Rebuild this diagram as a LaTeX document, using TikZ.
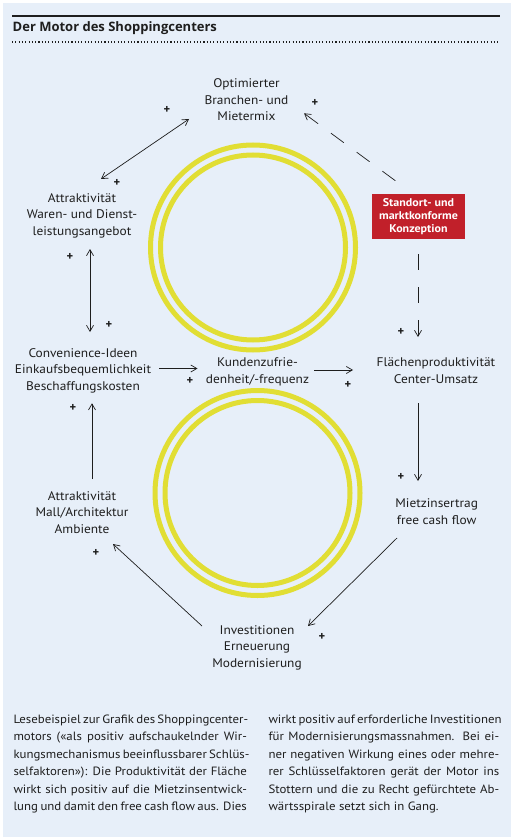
\documentclass[tikz,border=0pt]{standalone}
\usepackage{fontspec}
\setmainfont{PT Sans}
\newfontfamily\lblfont{PT Sans}[FakeStretch=1.07]
\newfontfamily\titlefont{Open Sans}
\usetikzlibrary{arrows.meta,calc}
\definecolor{bgblue}{HTML}{E7EFF9}
\definecolor{ringyellow}{HTML}{E1DE34}
\definecolor{boxred}{HTML}{C1202A}
\definecolor{ink}{HTML}{1E1E1E}
\begin{document}
\begin{tikzpicture}[x=1pt,y=-1pt,
  lbl/.style={align=center, inner sep=0pt, anchor=base, text=ink, font=\lblfont\fontsize{12.5}{16.5}\selectfont},
  plus/.style={inner sep=0pt, font=\bfseries\fontsize{12.5}{12.5}\selectfont, text=ink},
  ring/.style={draw=ringyellow, line width=5pt},
  tipb/.tip={Straight Barb[length=6pt,width=7pt]},
  conn/.style={draw=ink, line width=0.7pt, -tipb},
  both/.style={draw=ink, line width=0.7pt, tipb-tipb},
  dconn/.style={conn, dash pattern=on 16pt off 16pt},
  coltext/.style={align=left, inner sep=0pt, anchor=base west, text=ink, font=\lblfont\fontsize{12}{17.5}\selectfont},
]
\useasboundingbox (0,0) rectangle (511,837);
\fill[white] (0,0) rectangle (511,837);
\fill[bgblue] (3,3) rectangle (511,837);
% header
\draw[ink, line width=1.7pt] (12,15.7) -- (500,15.7);
\node[anchor=base west, inner sep=0pt, text=ink, font=\titlefont\bfseries\fontsize{13}{16}\selectfont] (title) at (12.5,32) {Der Motor des Shoppingcenters};
\draw[ink, line width=1.3pt, dash pattern=on 1.1pt off 2.2pt] (12,42) -- (500,42);
% rings
\draw[ring] (253,247.5) circle[radius=102.5pt];
\draw[ring] (253,247.5) circle[radius=92.5pt];
\draw[ring] (257.5,493) circle[radius=102.5pt];
\draw[ring] (257.5,493) circle[radius=92.5pt];
% labels (positioned by the baseline of their last line)
\node[lbl] (opt) at (246.5,121) {Optimierter\\Branchen- und\\Mietermix};
\node[lbl] (waren) at (82,235.5) {Attraktivität\\Waren- und Dienst-\\leistungsangebot};
\node[lbl] (conv) at (83,390) {Convenience-Ideen\\Einkaufsbequemlichkeit\\Beschaffungskosten};
\node[lbl] (kunden) at (257.5,383.3) {Kundenzufrie-\\denheit/-frequenz};
\node[lbl] (flaech) at (436,383) {Flächenproduktivität\\Center-Umsatz};
\node[lbl] (miet) at (436.7,524) {Mietzinsertrag\\free cash flow};
\node[lbl] (mall) at (82,533.3) {Attraktivität\\Mall/Architektur\\Ambiente};
\node[lbl] (invest) at (257,667.3) {Investitionen\\Erneuerung\\Modernisierung};
\node[fill=boxred, minimum width=93pt, minimum height=45pt, inner sep=0pt, align=center, text=white,
  font=\lblfont\bfseries\fontsize{11.2}{12.9}\selectfont] (box) at (418.5,216.5) {Standort- und\\marktkonforme\\Konzeption};
% connectors
\draw[both] ($(waren.base)+(19,-56.5)$) -- ($(opt.base)+(-57.5,-2)$);
\draw[dconn] ($(box.center)+(-23.2,-35.8)$) -- ($(opt.base)+(57.5,-7.7)$);
\draw[dconn, dash pattern=on 16pt off 17pt] ($(box.center)+(-0.5,37.5)$) -- ($(flaech.base)+(-18,-46)$);
\draw[both] ($(waren.base)+(8,13.5)$) -- ($(conv.base)+(7,-58)$);
\draw[conn] ($(conv.base)+(76,-21.5)$) -- ($(kunden.base)+(-60,-14.8)$);
\draw[conn] ($(kunden.base)+(56.5,-13.3)$) -- ($(flaech.base)+(-83,-13)$);
\draw[conn] ($(flaech.base)+(-18,20)$) -- ($(miet.base)+(-18.7,-43)$);
\draw[conn] ($(miet.base)+(-39.7,14)$) -- ($(invest.base)+(51,-41.3)$);
\draw[conn] ($(invest.base)+(-55,-41.3)$) -- ($(mall.base)+(31,10.7)$);
\draw[conn] ($(mall.base)+(10,-54.3)$) -- ($(conv.base)+(9,13.3)$);
% plus signs
\node[plus] (p1) at (167,110) {+};
\node[plus] (p2) at (117,183) {+};
\node[plus] (p3) at (315,103) {+};
\node[plus] (p4) at (401,332) {+};
\node[plus] (p5) at (70,257) {+};
\node[plus] (p6) at (109,325) {+};
\node[plus] (p7) at (190,381) {+};
\node[plus] (p8) at (348,385) {+};
\node[plus] (p9) at (401,477) {+};
\node[plus] (p10) at (322,637) {+};
\node[plus] (p11) at (96,553) {+};
\node[plus] (p12) at (73,408) {+};
% bottom text (positioned by the baseline of the last line)
\node[coltext] (colA) at (13.3,810.5) {%
\makebox[233.4pt][s]{Lesebeispiel zur Grafik des Shoppingcenter-}\\
\makebox[233.4pt][s]{motors («als positiv aufschaukelnder Wir-}\\
\makebox[233.4pt][s]{kungsmechanismus beeinflussbarer Schlüs-}\\
\makebox[233.4pt][s]{selfaktoren»): Die Produktivität der Fläche}\\
\makebox[233.4pt][s]{wirkt sich positiv auf die Mietzinsentwick-}\\
\makebox[233.4pt][s]{lung und damit den free cash flow aus. Dies}};
\node[coltext] (colB) at (268.3,810.5) {%
\makebox[230.7pt][s]{wirkt positiv auf erforderliche Investitionen}\\
\makebox[230.7pt][s]{für Modernisierungsmassnahmen. Bei ei-}\\
\makebox[230.7pt][s]{ner negativen Wirkung eines oder mehre-}\\
\makebox[230.7pt][s]{rer Schlüsselfaktoren gerät der Motor ins}\\
\makebox[230.7pt][s]{Stottern und die zu Recht gefürchtete Ab-}\\
wärtsspirale setzt sich in Gang.};
\end{tikzpicture}
\end{document}
